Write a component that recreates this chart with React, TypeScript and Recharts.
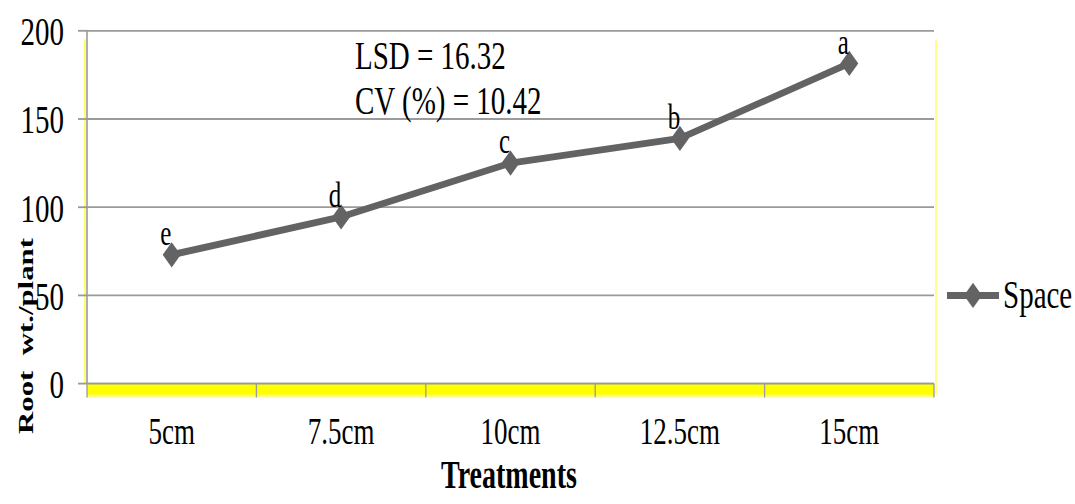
import React from "react";
import {
  CartesianGrid,
  Legend,
  LabelList,
  Line,
  LineChart,
  XAxis,
  YAxis,
  usePlotArea,
} from "recharts";

// values
const treatments = ["5cm", "7.5cm", "10cm", "12.5cm", "15cm"];
const rootWeight = [73, 94.5, 125, 139, 181.5];
const letters = ["e", "d", "c", "b", "a"];
const yTicks = [0, 50, 100, 150, 200];

const data = treatments.map((t, i) => ({ name: t, Space: rootWeight[i], grp: letters[i] }));

const SERIF = '"Liberation Serif", "Times New Roman", serif';
const LINE = "#636363";
const GRID = "#9a9a9a";
// source image is stretched vertically
const STRETCH = 1.4;
const W = 1075;
const H = 360;

function Diamond(props: any) {
  const { cx, cy } = props;
  if (cx == null || cy == null) return null;
  const r = 9;
  return <polygon points={`${cx},${cy - r} ${cx + r},${cy} ${cx},${cy + r} ${cx - r},${cy}`} fill={LINE} />;
}

// yellow shadow under the plot, band boundary ticks, axis titles
function Frame() {
  const area = usePlotArea();
  if (!area) return null;
  const { x, y, width, height } = area;
  const bottom = y + height;
  const step = width / treatments.length;
  return (
    <g>
      <defs>
        <linearGradient id="yel" x1="0" y1="0" x2="0" y2="1">
          <stop offset="0%" stopColor="#ffff00" />
          <stop offset="70%" stopColor="#ffff00" />
          <stop offset="100%" stopColor="#ffffb0" />
        </linearGradient>
      </defs>
      <rect x={x} y={bottom} width={width} height={10} fill="url(#yel)" />
      <line x1={x - 2} x2={x - 2} y1={y + 6} y2={bottom} stroke="#ffff70" strokeWidth={2} />
      <line x1={x + width + 2} x2={x + width + 2} y1={y + 6} y2={bottom + 8} stroke="#ffff90" strokeWidth={2} />
      {treatments.concat([""]).map((_, i) => (
        <line key={i} x1={x + i * step} x2={x + i * step} y1={bottom} y2={bottom + 10} stroke={GRID} strokeWidth={1.3} />
      ))}
      <text x={355} y={39} dy="0.35em" fontFamily={SERIF} fontSize={29} fill="#000">
        LSD = 16.32
      </text>
      <text x={355} y={71} dy="0.35em" fontFamily={SERIF} fontSize={29} fill="#000">
        CV (%) = 10.42
      </text>
      <text
        x={25}
        y={240}
        dy="0.35em"
        transform="rotate(-90 25 240)"
        textAnchor="middle"
        fontFamily={SERIF}
        fontWeight="bold"
        fontSize={22}
        fill="#000"
        style={{ whiteSpace: "pre" }}
      >
        {"Root  wt./plant"}
      </text>
      <text x={509} y={339} dy="0.35em" textAnchor="middle" fontFamily={SERIF} fontWeight="bold" fontSize={28} fill="#000">
        Treatments
      </text>
    </g>
  );
}

function LegendBox() {
  return (
    <div style={{ display: "flex", alignItems: "center", fontFamily: SERIF, fontSize: 29, color: "#000" }}>
      <svg width={56} height={22}>
        <line x1={2} x2={54} y1={11} y2={11} stroke={LINE} strokeWidth={5} />
        <polygon points="28,2 37,11 28,20 19,11" fill={LINE} />
      </svg>
      <span style={{ marginLeft: 2 }}>Space</span>
    </div>
  );
}

export default function App() {
  return (
    <div
      style={{
        position: "absolute",
        left: 0,
        top: 0,
        width: W,
        height: H,
        background: "#fff",
        transform: `scaleY(${STRETCH})`,
        transformOrigin: "0 0",
      }}
    >
      <LineChart width={W} height={H} data={data} margin={{ top: 22, right: 141, left: 27, bottom: 0 }}>
        <Frame />
        <CartesianGrid vertical={false} stroke={GRID} strokeWidth={1.3} />
        <XAxis
          dataKey="name"
          scale="band"
          height={86}
          axisLine={{ stroke: GRID, strokeWidth: 1.3 }}
          tickLine={false}
          tickSize={10}
          tickMargin={14}
          tick={{ fontFamily: SERIF, fontSize: 27, fill: "#000" }}
          interval={0}
        />
        <YAxis
          domain={[0, 200]}
          ticks={yTicks}
          width={60}
          axisLine={{ stroke: GRID, strokeWidth: 1.6 }}
          tickLine={{ stroke: GRID, strokeWidth: 1.3 }}
          tickSize={9}
          tickMargin={14}
          tick={{ fontFamily: SERIF, fontSize: 29, fill: "#000" }}
        />
        <Line
          dataKey="Space"
          stroke={LINE}
          strokeWidth={5}
          dot={<Diamond />}
          activeDot={false}
          isAnimationActive={false}
        >
          <LabelList dataKey="grp" position="top" offset={7} dx={-6} fill="#000" fontFamily={SERIF} fontSize={25} />
        </Line>
        <Legend
          layout="vertical"
          align="center"
          verticalAlign="middle"
          content={<LegendBox />}
          wrapperStyle={{ left: 945, top: 194, width: 130 }}
        />
      </LineChart>
    </div>
  );
}
